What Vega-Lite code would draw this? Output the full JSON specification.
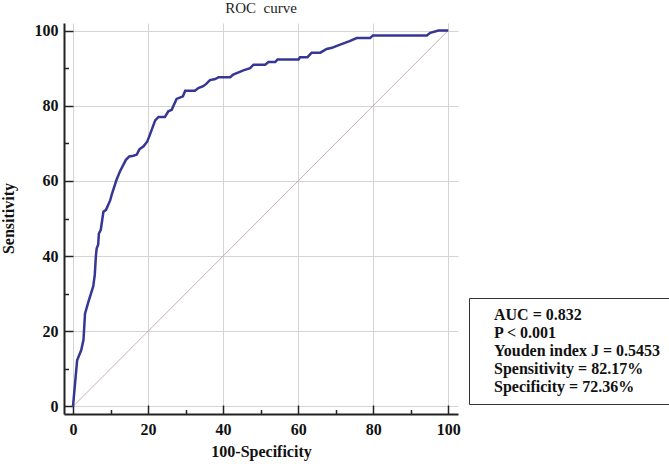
{
  "$schema": "https://vega.github.io/schema/vega-lite/v6.json",
  "autosize": "none",
  "padding": {"left": 64, "top": 23, "right": 211, "bottom": 50},
  "width": 394,
  "height": 391,
  "background": "white",
  "view": {"stroke": null},
  "title": {"text": "ROC\u00a0 curve", "font": "Liberation Serif", "fontSize": 15, "fontWeight": "normal", "color": "#222", "offset": 7},
  "datasets": {
    "roc": [
      {"fpr": 0, "tpr": 0}, {"fpr": 1.1, "tpr": 12.3}, {"fpr": 2.2, "tpr": 15}, {"fpr": 2.8, "tpr": 17.8},
      {"fpr": 3.2, "tpr": 24.7}, {"fpr": 4.1, "tpr": 27.8}, {"fpr": 5.4, "tpr": 32}, {"fpr": 5.8, "tpr": 35},
      {"fpr": 6.1, "tpr": 40}, {"fpr": 6.3, "tpr": 42}, {"fpr": 6.7, "tpr": 43}, {"fpr": 6.9, "tpr": 46},
      {"fpr": 7.4, "tpr": 47}, {"fpr": 8.1, "tpr": 51.8}, {"fpr": 8.8, "tpr": 52.3}, {"fpr": 9.9, "tpr": 54.8},
      {"fpr": 10.3, "tpr": 56.3}, {"fpr": 11.6, "tpr": 60.3}, {"fpr": 12.5, "tpr": 62.5}, {"fpr": 14.1, "tpr": 65.6},
      {"fpr": 15, "tpr": 66.5}, {"fpr": 16.1, "tpr": 66.7}, {"fpr": 17, "tpr": 67}, {"fpr": 17.7, "tpr": 68.4},
      {"fpr": 18.8, "tpr": 69.2}, {"fpr": 19.8, "tpr": 70.5}, {"fpr": 20.5, "tpr": 72.3}, {"fpr": 21.9, "tpr": 76.1},
      {"fpr": 22.8, "tpr": 77}, {"fpr": 24.5, "tpr": 77}, {"fpr": 25.4, "tpr": 78.5}, {"fpr": 26.3, "tpr": 78.9},
      {"fpr": 27.6, "tpr": 81.8}, {"fpr": 29.3, "tpr": 82.5}, {"fpr": 29.9, "tpr": 84}, {"fpr": 32.5, "tpr": 84},
      {"fpr": 33.4, "tpr": 84.7}, {"fpr": 34.7, "tpr": 85.2}, {"fpr": 35.5, "tpr": 85.8}, {"fpr": 36.5, "tpr": 86.8},
      {"fpr": 37.9, "tpr": 87.1}, {"fpr": 38.8, "tpr": 87.6}, {"fpr": 41.9, "tpr": 87.6}, {"fpr": 42.7, "tpr": 88.3},
      {"fpr": 45.4, "tpr": 89.4}, {"fpr": 47.2, "tpr": 90}, {"fpr": 48.1, "tpr": 90.9}, {"fpr": 51.2, "tpr": 90.9},
      {"fpr": 52.1, "tpr": 91.6}, {"fpr": 53.9, "tpr": 91.6}, {"fpr": 54.5, "tpr": 92.3}, {"fpr": 60.1, "tpr": 92.3},
      {"fpr": 60.5, "tpr": 92.9}, {"fpr": 62.5, "tpr": 92.9}, {"fpr": 63.6, "tpr": 94.1}, {"fpr": 65.9, "tpr": 94.1},
      {"fpr": 67.6, "tpr": 95.1}, {"fpr": 69, "tpr": 95.4}, {"fpr": 70.5, "tpr": 96}, {"fpr": 71.9, "tpr": 96.5},
      {"fpr": 73.7, "tpr": 97.2}, {"fpr": 75.6, "tpr": 98}, {"fpr": 79.2, "tpr": 98}, {"fpr": 79.9, "tpr": 98.7},
      {"fpr": 94.3, "tpr": 98.7}, {"fpr": 95.2, "tpr": 99.4}, {"fpr": 97.4, "tpr": 100}, {"fpr": 100, "tpr": 100}
    ],
    "diag": [{"fpr": 0, "tpr": 0}, {"fpr": 100, "tpr": 100}],
    "stats": [
      {"stat": "AUC = 0.832"},
      {"stat": "P < 0.001"},
      {"stat": "Youden index J = 0.5453"},
      {"stat": "Spensitivity = 82.17%"},
      {"stat": "Specificity = 72.36%"}
    ]
  },
  "config": {
    "axis": {
      "values": [0, 5, 10, 15, 20, 25, 30, 35, 40, 45, 50, 55, 60, 65, 70, 75, 80, 85, 90, 95, 100],
      "labelExpr": "datum.value % 20 === 0 ? datum.label : ''",
      "labelOverlap": false,
      "labelFont": "Liberation Serif",
      "labelFontSize": 16,
      "labelFontWeight": "bold",
      "labelColor": "#111",
      "titleFont": "Liberation Serif",
      "titleFontSize": 16,
      "titleFontWeight": "bold",
      "titleColor": "#111",
      "domainColor": "#222",
      "domainWidth": 2,
      "ticks": true,
      "tickColor": "#222",
      "tickWidth": 1.5,
      "tickSize": {"condition": {"test": "datum.value % 20 === 0", "value": 9}, "value": 4.5},
      "grid": true,
      "gridColor": "#d4d4d4",
      "gridWidth": 1,
      "gridOpacity": {"condition": {"test": "datum.value % 20 === 0", "value": 1}, "value": 0}
    }
  },
  "layer": [
    {
      "data": {"name": "diag"},
      "mark": {"type": "line", "color": "#c49a9a", "strokeWidth": 0.8},
      "encoding": {
        "x": {"field": "fpr", "type": "quantitative", "scale": {"domain": [-2.4, 102.6], "nice": false, "zero": false}, "title": "100-Specificity",
          "axis": {"orient": "top", "offset": -391, "labelBaseline": "top", "labelPadding": -16,
            "titleX": 197, "titleY": 37, "titleBaseline": "middle", "titleAlign": "center", "titleAngle": 0}},
        "y": {"field": "tpr", "type": "quantitative", "scale": {"domain": [-2, 102], "nice": false, "zero": false}, "title": "Sensitivity",
          "axis": {"orient": "right", "offset": -394, "labelAlign": "right", "labelPadding": -15,
            "titleX": -56, "titleY": 195, "titleAngle": 270, "titleBaseline": "middle", "titleAlign": "center"}}
      }
    },
    {
      "data": {"name": "roc"},
      "mark": {"type": "line", "color": "#363694", "strokeWidth": 2.5},
      "encoding": {
        "x": {"field": "fpr", "type": "quantitative"},
        "y": {"field": "tpr", "type": "quantitative"}
      }
    },
    {
      "data": {"name": "stats"},
      "mark": {"type": "point", "opacity": 0},
      "encoding": {
        "color": {
          "field": "stat", "type": "nominal", "sort": null,
          "scale": {"range": ["#000"]},
          "legend": {
            "title": null, "orient": "none", "legendX": 405, "legendY": 275,
            "strokeColor": "#333", "padding": 9,
            "symbolSize": 0, "symbolStrokeWidth": 0, "symbolOpacity": 0, "labelOffset": 0,
            "labelFont": "Liberation Serif", "labelFontSize": 16, "labelFontWeight": "bold",
            "labelColor": "#111", "labelLimit": 400, "rowPadding": 2
          }
        }
      }
    }
  ]
}
